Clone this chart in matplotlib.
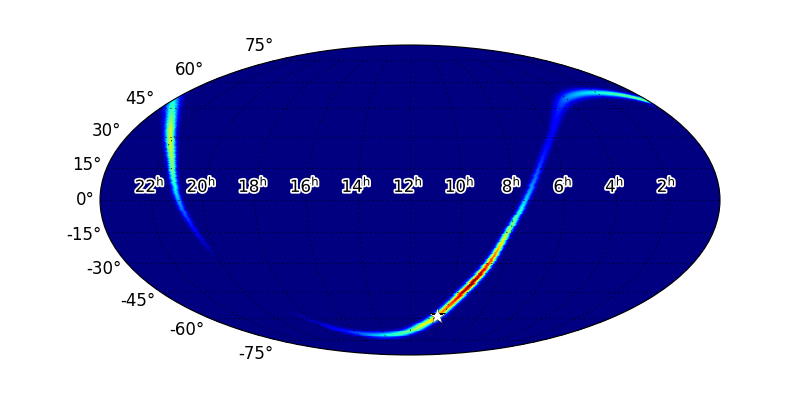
import numpy as np
import matplotlib
matplotlib.use('Agg')
import matplotlib.pyplot as plt
import matplotlib.patheffects as pe
from matplotlib.transforms import Affine2D

plt.rcParams['axes.unicode_minus'] = False
plt.rcParams['font.size'] = 12

# ridge of the probability band: right ascension (hours), declination (deg), peak level, band sigma (deg)
arc_a_ra = [24.00, 23.70, 22.34, 21.58, 21.21, 20.91, 20.53, 20.21, 20.08]
arc_a_dec = [50.0, 47.4, 33.3, 20.1, 9.2, -1.6, -12.9, -22.5, -26.4]
arc_a_peak = [0.36, 0.40, 0.60, 0.56, 0.42, 0.28, 0.13, 0.05, 0.01]
arc_a_sigma = [1.5, 1.5, 1.5, 1.5, 1.4, 1.3, 1.2, 1.1, 1.0]

arc_b_ra = [0.06, 0.66, 1.82, 2.97, 3.98, 4.78, 5.81, 6.65, 7.21, 7.66, 8.15,
            8.62, 9.12, 9.65, 10.42, 11.15, 12.22, 14.13, 16.00, 17.41, 18.16, 18.73]
arc_b_dec = [49.0, 51.8, 53.5, 52.9, 50.1, 45.2, 33.3, 20.1, 7.7, -3.5, -15.8,
             -29.8, -40.0, -48.5, -58.8, -64.3, -68.9, -71.0, -69.6, -65.6, -60.0, -56.4]
arc_b_peak = [0.50, 0.47, 0.38, 0.32, 0.25, 0.17, 0.12, 0.16, 0.26, 0.38, 0.58,
              0.85, 1.00, 0.90, 0.72, 0.62, 0.48, 0.35, 0.20, 0.10, 0.04, 0.01]
arc_b_sigma = [1.2, 1.3, 1.5, 1.6, 1.7, 1.6, 1.3, 1.3, 1.3, 1.3, 1.4,
               1.5, 1.6, 1.6, 1.6, 1.6, 1.5, 1.5, 1.4, 1.3, 1.2, 1.1]

star_ra = 10.42
star_dec = -58.8

ra_ticks = [22, 20, 18, 16, 14, 12, 10, 8, 6, 4, 2]


def unit(lon, lat):
    return np.stack([np.cos(lat) * np.cos(lon), np.cos(lat) * np.sin(lon), np.sin(lat)], axis=-1)


def ra_to_lon(ra):
    return np.radians((12.0 - np.asarray(ra, float)) * 15.0)


def smooth(a, n=6):
    """Catmull-Rom path through the read ridge points, for a smooth band."""
    a = np.asarray(a, float)
    p = np.vstack([2 * a[0] - a[1], a, 2 * a[-1] - a[-2]])
    out = []
    for i in range(1, len(p) - 2):
        for u in np.arange(n) / n:
            out.append(0.5 * (2 * p[i] + (p[i + 1] - p[i - 1]) * u
                              + (2 * p[i - 1] - 5 * p[i] + 4 * p[i + 1] - p[i + 2]) * u ** 2
                              + (3 * p[i] - p[i - 1] - 3 * p[i + 1] + p[i + 2]) * u ** 3))
    out.append(a[-1])
    return np.array(out)


lon_e = np.radians(np.linspace(-180, 180, 621))
lat_e = np.radians(np.linspace(-90, 90, 311))
lon_c = 0.5 * (lon_e[:-1] + lon_e[1:])
lat_c = 0.5 * (lat_e[:-1] + lat_e[1:])
LON, LAT = np.meshgrid(lon_c, lat_c)
P = unit(LON, LAT)
field = np.zeros(LON.shape)

for ra, dec, peak, sig in [(arc_a_ra, arc_a_dec, arc_a_peak, arc_a_sigma),
                           (arc_b_ra, arc_b_dec, arc_b_peak, arc_b_sigma)]:
    v = smooth(unit(ra_to_lon(ra), np.radians(dec)))
    pk_s = np.clip(smooth(np.array(peak)[:, None])[:, 0], 0, 1)
    sg_s = smooth(np.array(sig)[:, None])[:, 0]
    for i in range(len(v) - 1):
        a, b = v[i], v[i + 1]
        ab = b - a
        t = np.clip(((P - a) @ ab) / (ab @ ab), 0, 1)
        d = np.linalg.norm(P - (a + t[..., None] * ab), axis=-1)
        s = np.radians(sg_s[i] + t * (sg_s[i + 1] - sg_s[i]))
        pk = pk_s[i] + t * (pk_s[i + 1] - pk_s[i])
        field = np.maximum(field, pk * np.exp(-0.5 * (d / s) ** 2))

fig = plt.figure(figsize=(8, 4), dpi=100)
ax = fig.add_axes([0.125, 0.1125, 0.775, 0.775], projection='mollweide')
ax.pcolormesh(lon_e, lat_e, field, cmap='jet', vmin=0, vmax=1, shading='flat',
              antialiased=False, rasterized=True, zorder=1)
ax.grid(True, color='k', linestyle=(0, (2, 5)), linewidth=0.5, zorder=2)
ax.set_axisbelow(False)
ax.set_xticklabels(['$%d^\\mathrm{h}$' % h for h in ra_ticks])
for tick in ax.xaxis.get_major_ticks():
    lab = tick.label1
    lab.set_path_effects([pe.withStroke(linewidth=2.5, foreground='white')])
    lab.set_transform(lab.get_transform() + Affine2D().translate(-2, 0))
for tick in ax.yaxis.get_major_ticks():
    lab = tick.label1
    lab.set_transform(lab.get_transform() + Affine2D().translate(3, 0))
ax.scatter(ra_to_lon([star_ra]), np.radians([star_dec]), marker='*', s=150,
           facecolor='white', edgecolor='black', linewidth=0.3, zorder=5)
fig.savefig('out.png', dpi=100)
